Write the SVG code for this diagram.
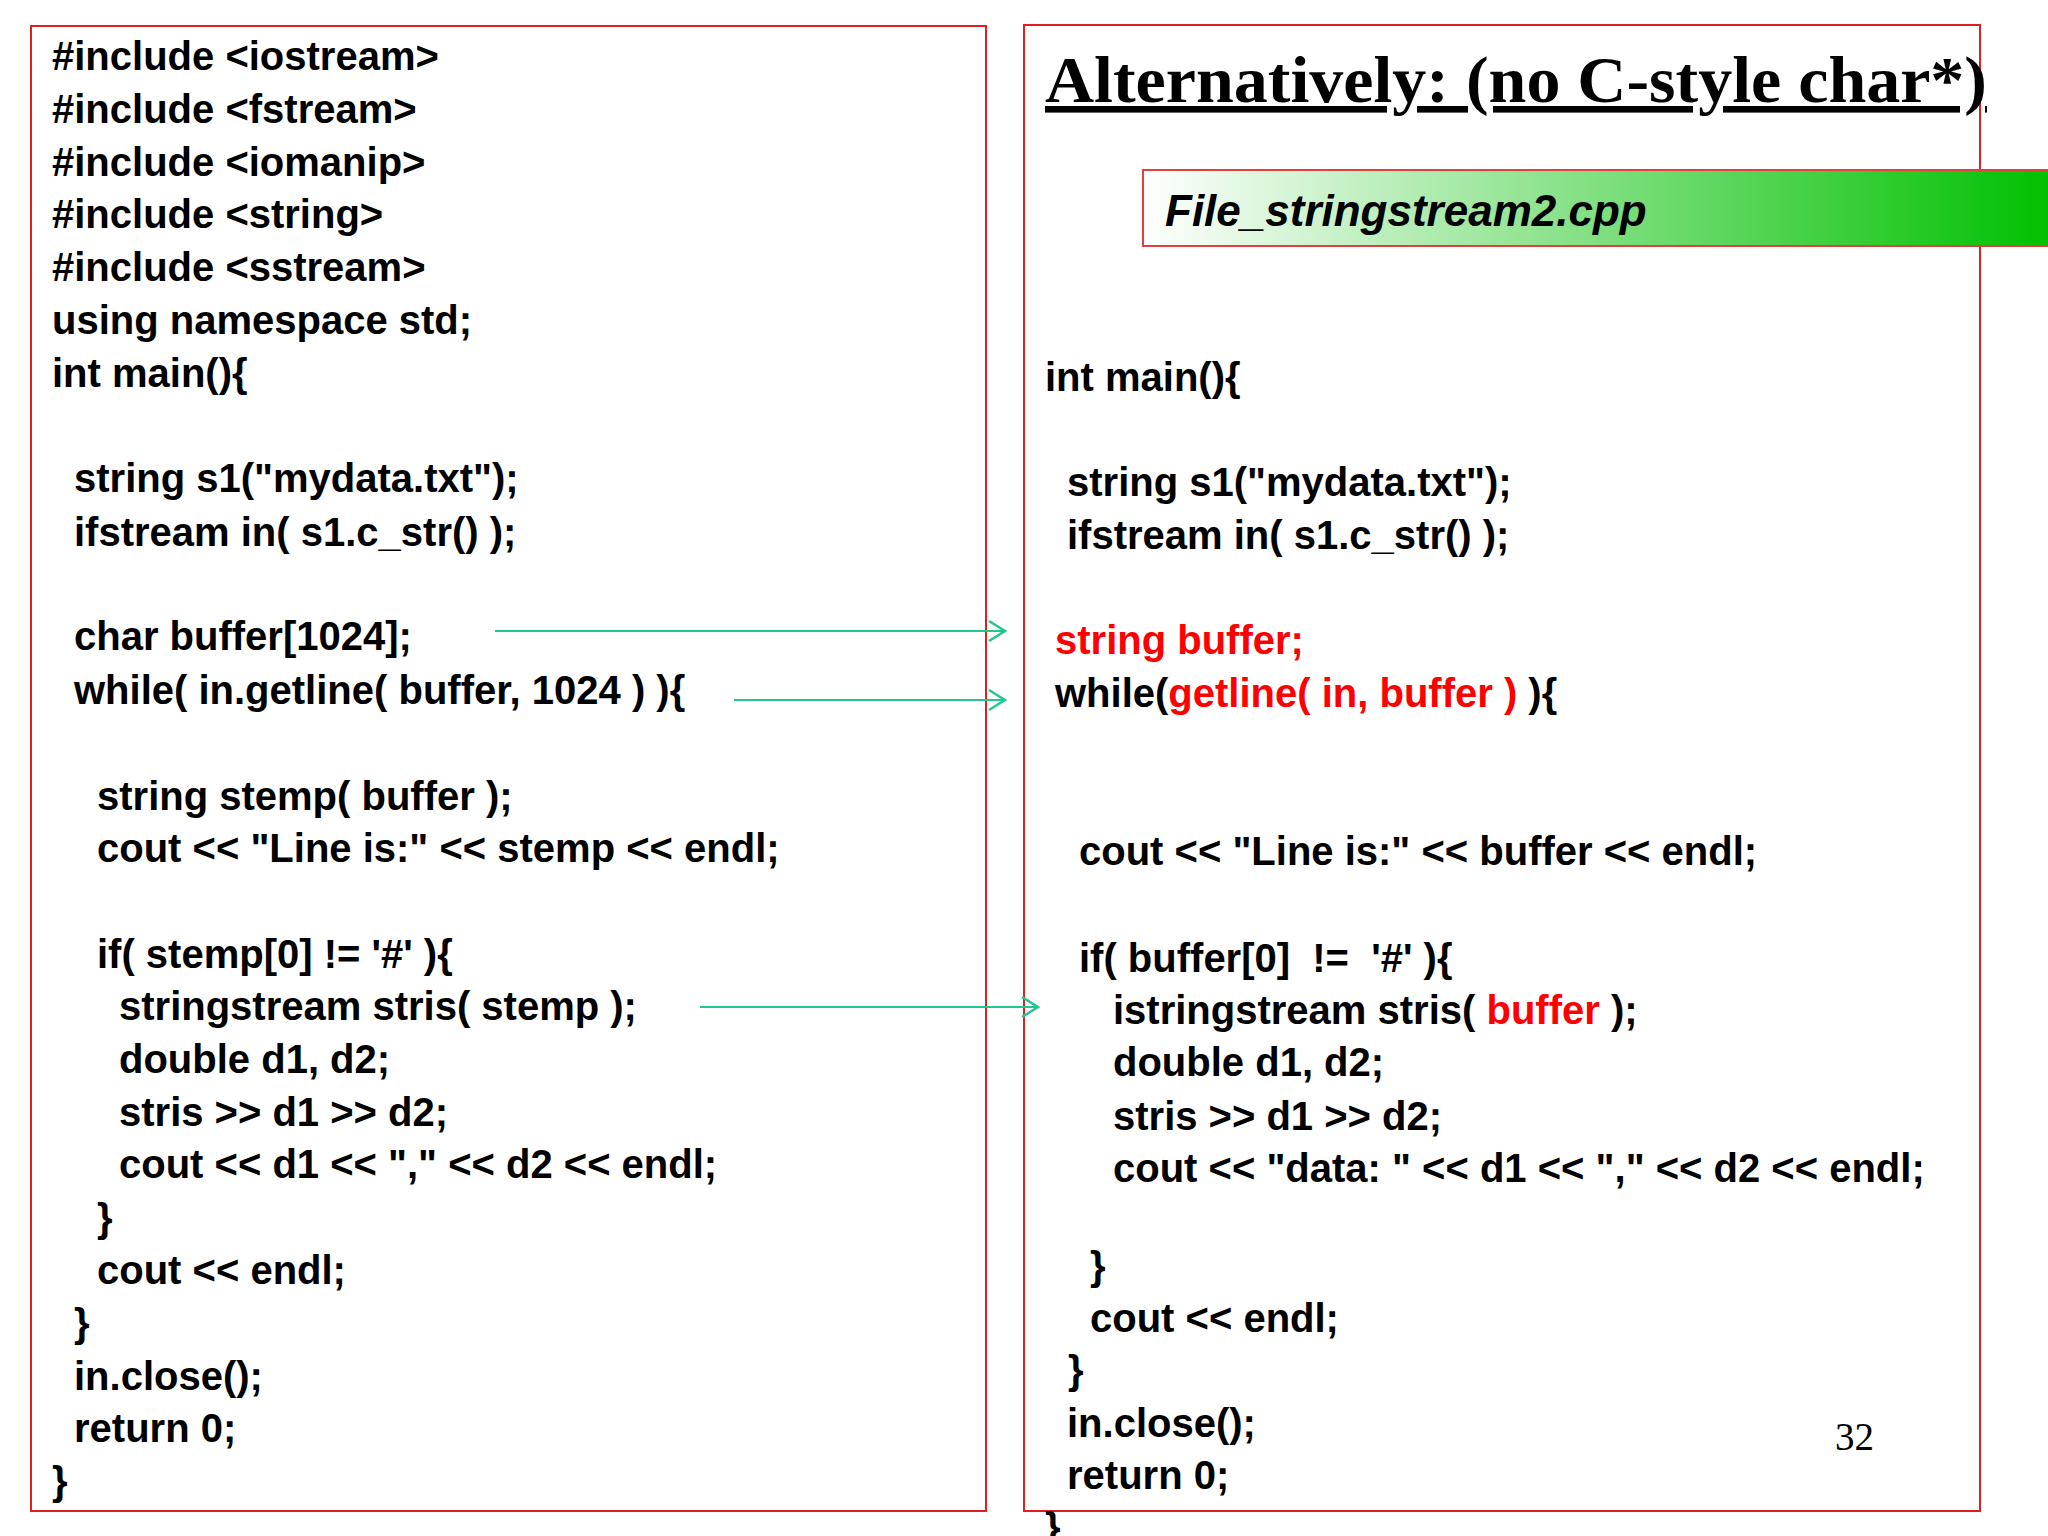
<svg xmlns="http://www.w3.org/2000/svg" width="2048" height="1536" viewBox="0 0 2048 1536">
<defs>
<linearGradient id="g" x1="0" x2="1" y1="0" y2="0"><stop offset="0" stop-color="#ffffff"/><stop offset="1" stop-color="#00c000"/></linearGradient>
<marker id="a" markerWidth="24" markerHeight="24" refX="20" refY="12" orient="auto" markerUnits="userSpaceOnUse"><path d="M4,2 L20,12 L4,22" fill="none" stroke="#20c890" stroke-width="2.5"/></marker>
<style>
.c{font-family:"Liberation Sans",Arial,sans-serif;font-weight:bold;font-size:40px;fill:#000;white-space:pre}
.r{fill:#ff0000}
.box{fill:none;stroke:#e02020;stroke-width:2}
.ar{stroke:#20c890;stroke-width:2;fill:none;marker-end:url(#a)}
</style>
</defs>
<rect width="2048" height="1536" fill="#fff"/>
<g id="left"><rect class="box" x="31" y="26" width="955" height="1485"/>
<g class="c">
<text x="52" y="70">#include &lt;iostream&gt;</text>
<text x="52" y="123">#include &lt;fstream&gt;</text>
<text x="52" y="176">#include &lt;iomanip&gt;</text>
<text x="52" y="228">#include &lt;string&gt;</text>
<text x="52" y="281">#include &lt;sstream&gt;</text>
<text x="52" y="334">using namespace std;</text>
<text x="52" y="387">int main(){</text>
<text x="74" y="492">string s1("mydata.txt");</text>
<text x="74" y="546">ifstream in( s1.c_str() );</text>
<text x="74" y="650">char buffer[1024];</text>
<text x="74" y="704">while( in.getline( buffer, 1024 ) ){</text>
<text x="97" y="810">string stemp( buffer );</text>
<text x="97" y="862">cout &lt;&lt; "Line is:" &lt;&lt; stemp &lt;&lt; endl;</text>
<text x="97" y="968">if( stemp[0] != '#' ){</text>
<text x="119" y="1020">stringstream stris( stemp );</text>
<text x="119" y="1073">double d1, d2;</text>
<text x="119" y="1126">stris &gt;&gt; d1 &gt;&gt; d2;</text>
<text x="119" y="1178">cout &lt;&lt; d1 &lt;&lt; "," &lt;&lt; d2 &lt;&lt; endl;</text>
<text x="97" y="1232">}</text>
<text x="97" y="1284">cout &lt;&lt; endl;</text>
<text x="74" y="1337">}</text>
<text x="74" y="1390">in.close();</text>
<text x="74" y="1442">return 0;</text>
<text x="52" y="1495">}</text>
</g></g>
<g id="right"><rect class="box" x="1024" y="25" width="956" height="1486"/>
<text x="1045" y="102" font-family="Liberation Serif,serif" font-weight="bold" font-size="66" text-decoration="underline" textLength="942" lengthAdjust="spacingAndGlyphs">Alternatively: (no C-style char*)</text>
<rect x="1143" y="170" width="910" height="76" fill="url(#g)" stroke="#e04040" stroke-width="2"/>
<text x="1165" y="226" font-family="Liberation Sans,sans-serif" font-weight="bold" font-style="italic" font-size="44">File_stringstream2.cpp</text>
<g class="c">
<text x="1045" y="391">int main(){</text>
<text x="1067" y="496">string s1("mydata.txt");</text>
<text x="1067" y="549">ifstream in( s1.c_str() );</text>
<text x="1055" y="654" class="r">string buffer;</text>
<text x="1055" y="707">while(<tspan class="r">getline( in, buffer )</tspan> ){</text>
<text x="1079" y="865">cout &lt;&lt; "Line is:" &lt;&lt; buffer &lt;&lt; endl;</text>
<text x="1079" y="972">if( buffer[0]&#160; !=&#160; '#' ){</text>
<text x="1113" y="1024">istringstream stris( <tspan class="r">buffer</tspan> );</text>
<text x="1113" y="1076">double d1, d2;</text>
<text x="1113" y="1130">stris &gt;&gt; d1 &gt;&gt; d2;</text>
<text x="1113" y="1182">cout &lt;&lt; "data: " &lt;&lt; d1 &lt;&lt; "," &lt;&lt; d2 &lt;&lt; endl;</text>
<text x="1090" y="1280">}</text>
<text x="1090" y="1332">cout &lt;&lt; endl;</text>
<text x="1068" y="1384">}</text>
<text x="1067" y="1437">in.close();</text>
<text x="1067" y="1489">return 0;</text>
<text x="1045" y="1541">}</text>
</g>
<text x="1835" y="1450" font-family="Liberation Serif,serif" font-size="39">32</text>
</g>
<g id="connectors">
<line class="ar" x1="495" y1="631" x2="1005" y2="631"/>
<line class="ar" x1="734" y1="700" x2="1005" y2="700"/>
<line class="ar" x1="700" y1="1007" x2="1038" y2="1007"/>
</g>
</svg>
